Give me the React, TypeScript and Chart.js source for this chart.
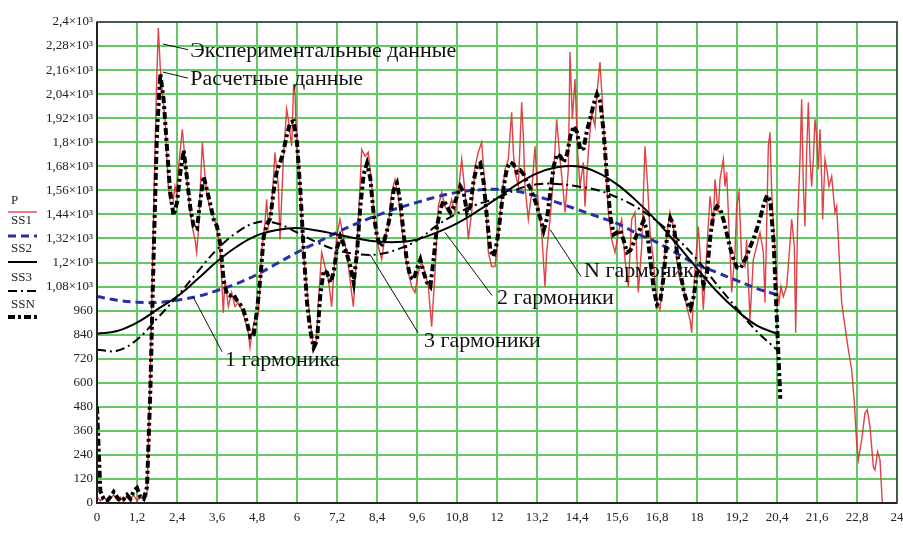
import React, { useEffect, useRef } from "react";
import { Chart, registerables } from "chart.js";

Chart.register(...registerables);

// ---------- DATA ----------
// Experimental data P (irregular sampling along x)
const pX = [0, 0.1, 0.2, 0.3, 0.4, 0.5, 0.6, 0.7, 0.8, 0.9, 1.0, 1.1, 1.2, 1.3, 1.4, 1.5, 1.6, 1.7, 1.78, 1.84, 1.9, 1.99, 2.04, 2.09, 2.14, 2.19, 2.24, 2.29, 2.34, 2.39, 2.44, 2.49, 2.56, 2.62, 2.69, 2.79, 2.89, 2.94, 2.99, 3.04, 3.12, 3.16, 3.22, 3.29, 3.39, 3.49, 3.59, 3.69, 3.74, 3.79, 3.84, 3.89, 3.94, 4.04, 4.14, 4.24, 4.34, 4.44, 4.54, 4.59, 4.66, 4.74, 4.84, 4.89, 4.94, 5.04, 5.09, 5.14, 5.24, 5.34, 5.39, 5.44, 5.49, 5.59, 5.69, 5.74, 5.84, 5.9, 5.94, 5.99, 6.04, 6.09, 6.14, 6.19, 6.29, 6.39, 6.49, 6.59, 6.64, 6.74, 6.84, 6.94, 7.04, 7.09, 7.19, 7.29, 7.39, 7.49, 7.59, 7.69, 7.79, 7.89, 7.94, 8.04, 8.14, 8.24, 8.34, 8.44, 8.54, 8.64, 8.74, 8.84, 8.94, 9.04, 9.14, 9.24, 9.34, 9.44, 9.54, 9.64, 9.74, 9.84, 9.94, 10.04, 10.14, 10.24, 10.34, 10.44, 10.54, 10.64, 10.74, 10.84, 10.94, 11.04, 11.14, 11.24, 11.34, 11.44, 11.54, 11.64, 11.74, 11.84, 11.94, 12.04, 12.14, 12.24, 12.34, 12.44, 12.49, 12.54, 12.64, 12.74, 12.79, 12.84, 12.94, 13.04, 13.14, 13.24, 13.34, 13.44, 13.49, 13.59, 13.69, 13.79, 13.89, 13.99, 14.04, 14.14, 14.19, 14.26, 14.34, 14.42, 14.49, 14.59, 14.64, 14.74, 14.84, 14.94, 14.99, 15.09, 15.16, 15.24, 15.34, 15.44, 15.54, 15.64, 15.74, 15.84, 15.94, 16.04, 16.14, 16.24, 16.34, 16.44, 16.52, 16.59, 16.69, 16.79, 16.89, 16.99, 17.09, 17.19, 17.29, 17.39, 17.49, 17.59, 17.69, 17.79, 17.84, 17.94, 18.04, 18.14, 18.19, 18.29, 18.39, 18.49, 18.54, 18.64, 18.69, 18.79, 18.84, 18.89, 18.99, 19.04, 19.14, 19.19, 19.26, 19.34, 19.44, 19.49, 19.59, 19.69, 19.79, 19.89, 19.99, 20.04, 20.09, 20.14, 20.19, 20.24, 20.34, 20.39, 20.46, 20.52, 20.59, 20.69, 20.77, 20.84, 20.92, 20.96, 21.02, 21.09, 21.14, 21.19, 21.24, 21.29, 21.34, 21.39, 21.44, 21.49, 21.54, 21.59, 21.64, 21.69, 21.74, 21.77, 21.84, 21.91, 21.96, 22.04, 22.14, 22.19, 22.26, 22.34, 22.44, 22.54, 22.64, 22.72, 22.79, 22.84, 22.94, 23.04, 23.11, 23.19, 23.29, 23.34, 23.42, 23.49, 23.56];
const pY = [30, 10, 35, 5, 25, 40, 15, 30, 5, 35, 20, 40, 10, 30, 15, 35, 650, 1450, 2050, 2370, 2165, 2000, 1915, 1750, 1580, 1515, 1550, 1515, 1580, 1540, 1665, 1750, 1865, 1750, 1630, 1465, 1350, 1315, 1250, 1350, 1650, 1800, 1670, 1550, 1465, 1430, 1380, 1280, 1115, 950, 1115, 1050, 980, 1050, 980, 1000, 965, 915, 850, 775, 865, 915, 950, 1080, 1250, 1400, 1515, 1380, 1480, 1750, 1665, 1580, 1315, 1715, 1965, 1915, 1780, 2090, 2050, 1780, 1715, 1580, 1415, 1250, 1080, 915, 780, 815, 1000, 1250, 1180, 1115, 980, 1115, 1330, 1415, 1330, 1250, 1115, 980, 1250, 1580, 1765, 1730, 1750, 1580, 1380, 1280, 1215, 1330, 1380, 1550, 1615, 1530, 1380, 1250, 1150, 1080, 1050, 1150, 1200, 1150, 1080, 880, 1150, 1480, 1550, 1480, 1450, 1515, 1450, 1550, 1715, 1550, 1315, 1450, 1680, 1750, 1800, 1580, 1250, 1180, 1180, 1350, 1515, 1665, 1715, 1950, 1750, 1650, 1580, 2000, 1830, 1580, 1415, 1550, 1780, 1480, 1350, 1080, 1250, 1415, 1615, 1915, 1715, 1550, 1450, 1665, 2250, 1915, 2115, 1750, 1580, 1700, 1480, 1750, 1950, 1880, 2030, 2200, 2000, 1750, 1450, 1315, 1250, 1350, 1415, 1215, 1080, 1415, 1450, 1050, 1280, 1780, 1580, 1350, 1215, 1000, 965, 1150, 1330, 1450, 1380, 1215, 1115, 1080, 980, 915, 850, 1165, 1380, 1115, 965, 1250, 1530, 1380, 1615, 1450, 1615, 1715, 1580, 1650, 1250, 1050, 1250, 1480, 1550, 1215, 1180, 1315, 915, 1215, 1280, 1350, 1250, 1000, 1380, 1780, 1850, 1550, 1250, 1080, 1000, 1080, 1030, 1080, 1250, 1415, 1280, 850, 1415, 1715, 2015, 1580, 1380, 1750, 2000, 1715, 1580, 1715, 1915, 1830, 1665, 1865, 1615, 1415, 1715, 1650, 1580, 1630, 1450, 1480, 1250, 1000, 880, 765, 665, 500, 300, 215, 315, 450, 465, 380, 180, 165, 255, 215, 0];

// Calculated data SSN, sampled every 0.1 from x = 0 to 20.5
const ssnStep = 0.1;
const ssnY = [480, 60, 20, 10, 30, 55, 30, 10, 20, 40, 20, 60, 75, 30, 20, 80, 560, 1250, 1850, 2140, 2010, 1770, 1540, 1435, 1500, 1650, 1760, 1620, 1470, 1380, 1370, 1510, 1630, 1560, 1490, 1415, 1380, 1290, 1110, 1040, 1035, 1040, 1010, 990, 960, 900, 830, 840, 960, 1120, 1330, 1390, 1420, 1560, 1660, 1700, 1760, 1840, 1900, 1905, 1800, 1560, 1260, 1000, 860, 775, 810, 1040, 1160, 1150, 1100, 1150, 1270, 1330, 1290, 1240, 1180, 1100, 1250, 1480, 1640, 1695, 1620, 1440, 1330, 1280, 1300, 1360, 1440, 1560, 1595, 1500, 1340, 1200, 1130, 1115, 1170, 1215, 1150, 1100, 1080, 1220, 1380, 1465, 1510, 1480, 1450, 1480, 1530, 1580, 1550, 1450, 1480, 1610, 1680, 1695, 1600, 1420, 1260, 1230, 1300, 1430, 1580, 1670, 1700, 1690, 1650, 1660, 1640, 1600, 1570, 1530, 1480, 1420, 1360, 1420, 1550, 1680, 1740, 1730, 1700, 1740, 1830, 1880, 1850, 1760, 1770, 1860, 1920, 1990, 2040, 2000, 1850, 1620, 1430, 1340, 1350, 1360, 1310, 1250, 1260, 1300, 1340, 1370, 1410, 1360, 1210, 1070, 990, 1010, 1130, 1330, 1420, 1390, 1250, 1150, 1060, 1000, 970, 1030, 1150, 1150, 1090, 1150, 1330, 1450, 1480, 1465, 1410, 1340, 1270, 1215, 1175, 1170, 1200, 1235, 1280, 1320, 1370, 1425, 1490, 1535, 1510, 1300, 900, 520];

// Harmonic approximations, sampled every 0.6 from x = 0 to 20.4
const harmStep = 0.6;
const ss1Y = [1030, 1012, 1002, 1000, 1012, 1030, 1060, 1095, 1140, 1195, 1250, 1300, 1350, 1395, 1435, 1470, 1500, 1528, 1550, 1562, 1565, 1555, 1530, 1500, 1465, 1430, 1395, 1345, 1300, 1245, 1190, 1150, 1110, 1070, 1040];
const ss2Y = [845, 858, 900, 965, 1030, 1115, 1205, 1280, 1335, 1362, 1372, 1360, 1340, 1320, 1305, 1302, 1315, 1350, 1395, 1455, 1520, 1590, 1645, 1675, 1680, 1650, 1590, 1505, 1405, 1290, 1170, 1055, 960, 885, 845];
const ss3Y = [765, 760, 815, 920, 1030, 1150, 1265, 1350, 1400, 1395, 1350, 1300, 1262, 1242, 1240, 1265, 1310, 1385, 1445, 1490, 1520, 1565, 1590, 1592, 1580, 1562, 1525, 1475, 1405, 1320, 1215, 1090, 970, 855, 765];

// Axes
const xMin = 0, xMax = 24, xStep = 1.2;
const yMin = 0, yMax = 2400, yStep = 120;

// Legend entries
const legendLabels = ["P", "SS1", "SS2", "SS3", "SSN"];

// Annotations: [text, lineFromX, lineFromY, lineToX, lineToY, textX, textY] in data units
const annotations: [string, number, number, number, number, number, number][] = [
  ["Экспериментальные данные", 1.98, 2290, 2.73, 2262, 2.8, 2255],
  ["Расчетные данные", 1.98, 2150, 2.73, 2120, 2.8, 2115],
  ["1 гармоника", 2.88, 1030, 3.75, 755, 3.84, 710],
  ["3 гармоники", 8.19, 1240, 9.63, 850, 9.81, 805],
  ["2 гармоники", 10.44, 1350, 11.85, 1035, 12.0, 1020],
  ["N гармоник", 13.59, 1365, 14.52, 1130, 14.61, 1155],
];

// ---------- STYLE ----------
const SERIF = "'Liberation Serif', 'Times New Roman', 'DejaVu Serif', serif";
const RED = "rgba(222, 45, 50, 0.9)";
const BLUE = "#2a2ea8";
const GRID = "rgb(100, 200, 100)";

const styles = [
  { color: RED, width: 1.4, dash: [] as number[] },
  { color: BLUE, width: 3, dash: [8, 5] },
  { color: "#000", width: 2, dash: [] as number[] },
  { color: "#000", width: 2, dash: [9, 4, 2, 4] },
  { color: "#000", width: 4, dash: [7, 3, 3, 3] },
];

function toPts(xs: number[], ys: number[]) {
  return ys.map((y, i) => ({ x: xs[i], y }));
}
function gridPts(step: number, ys: number[]) {
  return ys.map((y, i) => ({ x: Math.round(i * step * 100) / 100, y }));
}

function fmtX(v: number) {
  const r = Math.round(v * 10) / 10;
  return String(r).replace(".", ",");
}
function fmtY(v: number) {
  const r = Math.round(v);
  if (r >= 1000) {
    return String(Math.round(r) / 1000).replace(".", ",") + "×10³";
  }
  return String(r);
}

const overlayPlugin = {
  id: "overlay",
  afterDraw(chart: any) {
    const ctx = chart.ctx as CanvasRenderingContext2D;
    const { left, top, right, bottom } = chart.chartArea;
    const xs = chart.scales.x;
    const ys = chart.scales.y;
    ctx.save();
    // frame
    ctx.setLineDash([]);
    ctx.strokeStyle = "#3a3a3a";
    ctx.lineWidth = 1.5;
    ctx.strokeRect(left, top, right - left, bottom - top);
    ctx.lineWidth = 2;
    ctx.strokeStyle = "#222";
    ctx.beginPath();
    ctx.moveTo(left, top);
    ctx.lineTo(left, bottom);
    ctx.lineTo(right, bottom);
    ctx.stroke();

    // legend (left side)
    ctx.font = "13px " + SERIF;
    ctx.fillStyle = "#222";
    ctx.textAlign = "left";
    ctx.textBaseline = "middle";
    const textY = [201, 221, 249, 278, 305];
    const lineY = [212, 236, 262, 291, 317];
    legendLabels.forEach((lab, i) => {
      ctx.fillText(lab, 11, textY[i]);
      const s = styles[i];
      ctx.strokeStyle = s.color;
      ctx.lineWidth = s.width;
      ctx.setLineDash(s.dash);
      ctx.beginPath();
      ctx.moveTo(8, lineY[i]);
      ctx.lineTo(37, lineY[i]);
      ctx.stroke();
    });
    ctx.setLineDash([]);

    // annotations
    ctx.font = "22px " + SERIF;
    ctx.fillStyle = "#111";
    ctx.strokeStyle = "#111";
    ctx.lineWidth = 1;
    annotations.forEach(([txt, x1, y1, x2, y2, tx, ty]) => {
      ctx.beginPath();
      ctx.moveTo(xs.getPixelForValue(x1), ys.getPixelForValue(y1));
      ctx.lineTo(xs.getPixelForValue(x2), ys.getPixelForValue(y2));
      ctx.stroke();
      ctx.fillText(txt, xs.getPixelForValue(tx), ys.getPixelForValue(ty));
    });
    ctx.restore();
  },
};

export default function App() {
  const ref = useRef<HTMLCanvasElement | null>(null);
  useEffect(() => {
    if (!ref.current) return;
    const mk = (i: number, data: any[], order: number) => ({
      label: legendLabels[i],
      data,
      showLine: true,
      borderColor: styles[i].color,
      borderWidth: styles[i].width,
      borderDash: styles[i].dash,
      pointRadius: 0,
      fill: false,
      tension: i === 0 || i === 4 ? 0 : 0.4,
      order,
    });
    const chart = new Chart(ref.current, {
      type: "scatter",
      data: {
        datasets: [
          mk(0, toPts(pX, pY), 5),
          mk(1, gridPts(harmStep, ss1Y), 4),
          mk(2, gridPts(harmStep, ss2Y), 3),
          mk(3, gridPts(harmStep, ss3Y), 2),
          mk(4, gridPts(ssnStep, ssnY), 1),
        ],
      },
      options: {
        animation: false,
        responsive: false,
        maintainAspectRatio: false,
        layout: { padding: { left: 0, right: 6, top: 22, bottom: 0 } },
        plugins: { legend: { display: false }, tooltip: { enabled: false } },
        scales: {
          x: {
            type: "linear",
            min: xMin,
            max: xMax,
            afterBuildTicks: (scale: any) => {
              const t = [];
              for (let k = 0; k <= Math.round((xMax - xMin) / xStep); k++) t.push({ value: xMin + k * xStep });
              scale.ticks = t;
            },
            afterFit: (scale: any) => {
              scale.height = 30;
              scale.paddingLeft = 0;
              scale.paddingRight = 0;
            },
            grid: { color: GRID, lineWidth: 2, drawTicks: false },
            border: { display: false },
            ticks: {
              autoSkip: false,
              maxRotation: 0,
              padding: 7,
              color: "#222",
              font: { family: SERIF, size: 13 },
              callback: (v: any) => fmtX(Number(v)),
            },
          },
          y: {
            type: "linear",
            min: yMin,
            max: yMax,
            afterFit: (scale: any) => {
              scale.width = 97;
              scale.paddingTop = 0;
              scale.paddingBottom = 0;
            },
            grid: { color: GRID, lineWidth: 2, drawTicks: false },
            border: { display: false },
            ticks: {
              stepSize: yStep,
              autoSkip: false,
              padding: 4,
              color: "#222",
              font: { family: SERIF, size: 13 },
              callback: (v: any) => fmtY(Number(v)),
            },
          },
        },
      },
      plugins: [overlayPlugin],
    });
    return () => chart.destroy();
  }, []);
  return (
    <div style={{ position: "fixed", left: 0, top: 0, width: 903, height: 533, background: "#fff" }}>
      <canvas ref={ref} width={903} height={533} style={{ display: "block" }} />
    </div>
  );
}
